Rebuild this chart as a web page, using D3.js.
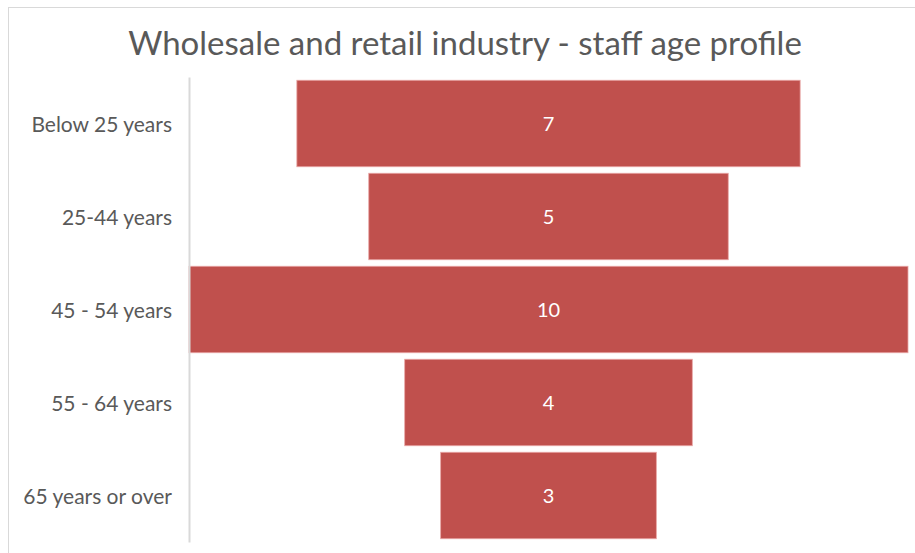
<!DOCTYPE html>
<html><head><meta charset="utf-8">
<script src="https://cdn.jsdelivr.net/npm/d3@7"></script>
<style>body{margin:0;background:#fff;}svg{display:block;font-family:Lato,"Open Sans",sans-serif;}</style>
</head><body><svg id="c" width="915" height="553"></svg>
<script>
const categories = ["Below 25 years","25-44 years","45 - 54 years","55 - 64 years","65 years or over"];
const values = [7,5,10,4,3];
const title = "Wholesale and retail industry - staff age profile";

const svg = d3.select("#c");
svg.append("rect").attr("x",8.5).attr("y",7.5).attr("width",930).attr("height",560)
  .attr("fill","#fff").attr("stroke","#d9d9d9").attr("stroke-width",1);

const maxV = d3.max(values);
const x = d3.scaleLinear().domain([-maxV/2, maxV/2]).range([189, 908]);
const y = d3.scaleBand().domain(categories).range([77, 542]).paddingInner(0.07).paddingOuter(0.035);

svg.append("text").attr("x",465).attr("y",55).attr("text-anchor","middle")
  .attr("font-size",33).attr("fill","#595959").text(title);

svg.selectAll("rect.bar").data(categories).join("rect").attr("class","bar")
  .attr("x",(d,i)=>x(-values[i]/2)).attr("width",(d,i)=>x(values[i]/2)-x(-values[i]/2))
  .attr("y",d=>y(d)).attr("height",y.bandwidth())
  .attr("fill","#C0504D").attr("stroke","#e8a6a5").attr("stroke-width",0.8);

svg.selectAll("text.val").data(categories).join("text").attr("class","val")
  .attr("x",x(0)).attr("y",d=>y(d)+y.bandwidth()/2).attr("dy","0.36em")
  .attr("text-anchor","middle").attr("font-size",20).attr("fill","#fff")
  .text((d,i)=>values[i]);

const ax = d3.axisLeft(y).tickSize(0).tickPadding(17);
const g = svg.append("g").attr("transform","translate(189,0)").call(ax);
g.select(".domain").attr("stroke","#d9d9d9").attr("stroke-width",2);
g.selectAll("text").attr("font-size",21).attr("fill","#595959").attr("dy","0.4em")
  .attr("font-family","Lato,'Open Sans',sans-serif");
</script></body></html>
